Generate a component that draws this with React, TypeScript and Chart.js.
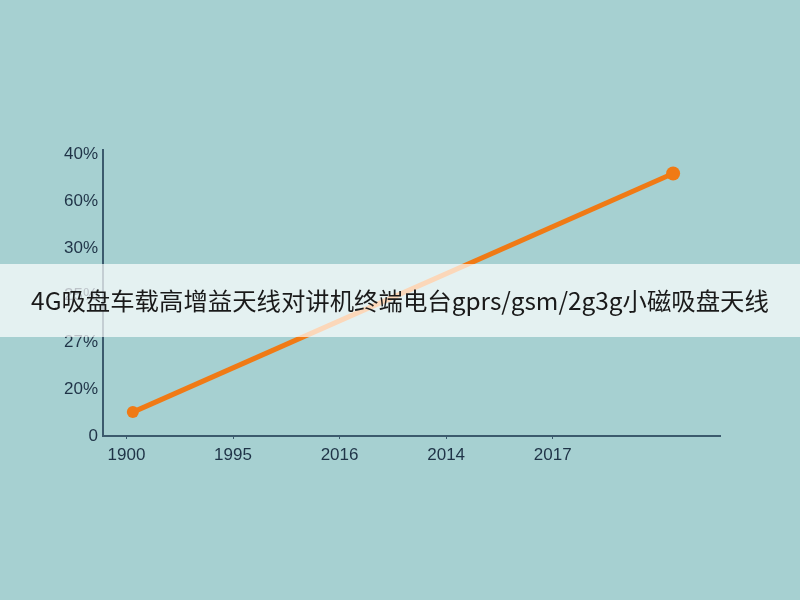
import React, { useEffect, useRef } from "react";
import { Chart, registerables } from "chart.js";

Chart.register(...registerables);

const xLabels = ["1900", "1995", "2016", "2014", "2017"];
const yLabels = ["0", "20%", "27%", "25%", "30%", "60%", "40%"];
const seriesX = [0.06, 5.13];
const seriesY = [0.51, 5.6];
const bannerText = "4G吸盘车载高增益天线对讲机终端电台gprs/gsm/2g3g小磁吸盘天线";

export default function App() {
  const ref = useRef<HTMLCanvasElement | null>(null);
  useEffect(() => {
    if (!ref.current) return;
    const axisColor = "#3b5a6d";
    const tickFont = { family: "'Liberation Sans', Arial, sans-serif", size: 17 };
    const chart = new Chart(ref.current, {
      type: "line",
      data: {
        datasets: [
          {
            data: seriesX.map((x, i) => ({ x, y: seriesY[i] })),
            borderColor: "#f07a15",
            backgroundColor: "#f07a15",
            borderWidth: 5,
            pointRadius: [6, 7],
            pointBackgroundColor: "#f07a15",
            pointBorderWidth: 0,
            tension: 0,
          },
        ],
      },
      options: {
        responsive: false,
        animation: false,
        layout: { padding: { top: 150, right: 80, left: 0, bottom: 0 } },
        plugins: { legend: { display: false }, tooltip: { enabled: false } },
        scales: {
          x: {
            type: "linear",
            min: -0.22,
            max: 5.57,
            afterBuildTicks: (s: any) => {
              s.ticks = xLabels.map((_, i) => ({ value: i }));
            },
            afterFit: (s: any) => {
              s.height = 164;
            },
            ticks: {
              callback: (v: any) => xLabels[Math.round(Number(v))] ?? "",
              color: "#1f3347",
              font: tickFont,
              padding: 6,
              maxRotation: 0,
              autoSkip: false,
            },
            grid: { drawOnChartArea: false, tickLength: 3, tickColor: axisColor },
            border: { display: true, color: axisColor, width: 2 },
          },
          y: {
            type: "linear",
            min: 0,
            max: 6.1,
            afterBuildTicks: (s: any) => {
              s.ticks = yLabels.map((_, i) => ({ value: i }));
            },
            afterFit: (s: any) => {
              s.width = 103;
            },
            ticks: {
              callback: (v: any) => yLabels[Math.round(Number(v))] ?? "",
              color: "#1f3347",
              font: tickFont,
              padding: 5,
              autoSkip: false,
            },
            grid: { display: false, drawTicks: false },
            border: { display: true, color: axisColor, width: 2 },
          },
        },
      },
    } as any);
    return () => chart.destroy();
  }, []);

  return (
    <div
      style={{
        position: "fixed",
        left: 0,
        top: 0,
        width: 800,
        height: 600,
        background: "#a6d0d1",
        overflow: "hidden",
      }}
    >
      <canvas ref={ref} width={800} height={600} style={{ display: "block" }} />
      <div
        style={{
          position: "absolute",
          left: 0,
          top: 264,
          width: 800,
          height: 73,
          background: "rgba(255,255,255,0.7)",
          color: "#1a1a1a",
          fontFamily: "'Noto Sans CJK SC', sans-serif",
          fontSize: 24.4,
          lineHeight: "72px",
          textAlign: "center",
          whiteSpace: "nowrap",
        }}
      >
        {bannerText}
      </div>
    </div>
  );
}
